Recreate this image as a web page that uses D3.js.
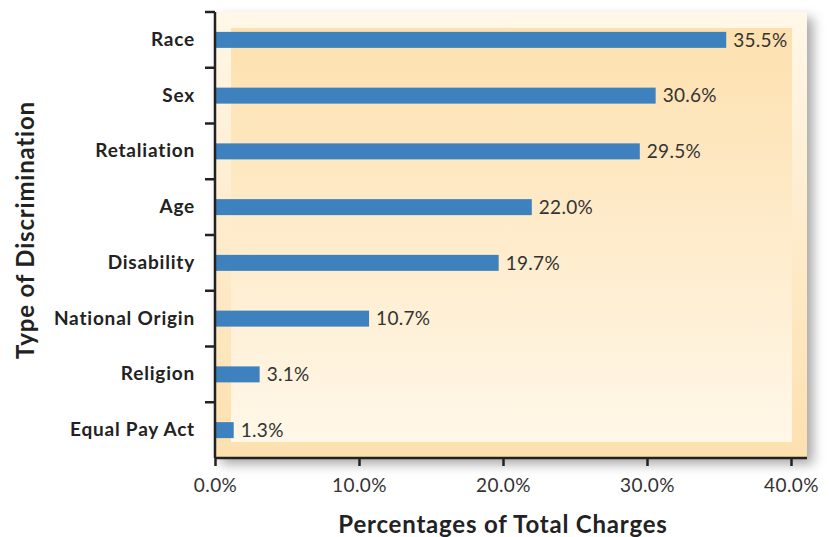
<!DOCTYPE html>
<html>
<head>
<meta charset="utf-8">
<script src="https://cdn.jsdelivr.net/npm/d3@7"></script>
<style>
  body { margin: 0; background: #fff; }
  svg { display: block; font-family: Lato, "Open Sans", sans-serif; }
</style>
</head>
<body>
<svg class="chart" width="829" height="537"></svg>
<script>
const categories = ["Race", "Sex", "Retaliation", "Age", "Disability", "National Origin", "Religion", "Equal Pay Act"];
const values = [35.5, 30.6, 29.5, 22.0, 19.7, 10.7, 3.1, 1.3];
const xTicks = [0, 10, 20, 30, 40];

const data = categories.map((c, i) => ({ name: c, value: values[i] }));

const margin = { top: 12, right: 38, bottom: 79, left: 215 };
const width = 829 - margin.left - margin.right;   // 576
const height = 537 - margin.top - margin.bottom;  // 446

const svgRoot = d3.select(".chart");
const defs = svgRoot.append("defs");

// panel gradients
const outerGrad = defs.append("linearGradient").attr("id", "outerGrad")
  .attr("x1", 0).attr("y1", 0).attr("x2", 0).attr("y2", 1);
outerGrad.append("stop").attr("offset", "0%").attr("stop-color", "#fff7e8");
outerGrad.append("stop").attr("offset", "100%").attr("stop-color", "#fde0ae");

const innerGrad = defs.append("linearGradient").attr("id", "innerGrad")
  .attr("x1", 0).attr("y1", 0).attr("x2", 0).attr("y2", 1);
innerGrad.append("stop").attr("offset", "0%").attr("stop-color", "#fde0ae");
innerGrad.append("stop").attr("offset", "100%").attr("stop-color", "#fff7e8");

const shadow = defs.append("filter").attr("id", "shadow")
  .attr("x", "-10%").attr("y", "-10%").attr("width", "130%").attr("height", "130%");
shadow.append("feDropShadow").attr("dx", 6).attr("dy", 6)
  .attr("stdDeviation", 6).attr("flood-color", "#000").attr("flood-opacity", 0.35);

const svg = svgRoot.append("g")
  .attr("transform", `translate(${margin.left},${margin.top})`);

const x = d3.scaleLinear().domain([0, 40]).range([0, width]);
const y = d3.scaleBand().domain(categories).range([0, height]);

// background panel
svg.append("rect")
  .attr("x", 0).attr("y", 0)
  .attr("width", width + 16).attr("height", height)
  .attr("fill", "url(#outerGrad)")
  .attr("filter", "url(#shadow)");

svg.append("rect")
  .attr("x", 16).attr("y", 16)
  .attr("width", width - 15).attr("height", height - 32)
  .attr("fill", "url(#innerGrad)");

// bars
svg.selectAll(".bar")
  .data(data)
  .enter()
  .append("rect")
  .attr("class", "bar")
  .attr("x", 0)
  .attr("y", (d) => y(d.name) + y.bandwidth() / 2 - 8)
  .attr("width", (d) => x(d.value))
  .attr("height", 16)
  .attr("fill", "#3d82be");

// value labels
svg.selectAll(".val")
  .data(data)
  .enter()
  .append("text")
  .attr("class", "val")
  .attr("x", (d) => x(d.value) + 7)
  .attr("y", (d) => y(d.name) + y.bandwidth() / 2)
  .attr("dy", "0.36em")
  .attr("font-size", 19)
  .attr("letter-spacing", 0.3)
  .attr("fill", "#333")
  .text((d) => d.value.toFixed(1) + "%");

// x axis
const xAxis = svg.append("g")
  .attr("transform", `translate(0,${height})`)
  .call(d3.axisBottom(x).tickValues(xTicks).tickSize(8).tickSizeOuter(0)
    .tickFormat((d) => d.toFixed(1) + "%"));
xAxis.select(".domain").attr("stroke", "#222").attr("stroke-width", 2.5)
  .attr("d", `M0,0H${width + 16}`);
xAxis.selectAll(".tick line").attr("stroke", "#222").attr("stroke-width", 2.5);
xAxis.selectAll(".tick text").attr("font-size", 19).attr("fill", "#333")
  .attr("letter-spacing", 0.4)
  .attr("dy", "1.2em").attr("font-family", "Lato, sans-serif");

// y axis
const yAxis = svg.append("g").call(d3.axisLeft(y).tickSize(0).tickPadding(20));
yAxis.select(".domain").attr("stroke", "#222").attr("stroke-width", 2.5)
  .attr("d", `M0,0V${height}`);
yAxis.selectAll(".tick text").attr("font-size", 19).attr("font-weight", "bold")
  .attr("letter-spacing", 0.8)
  .attr("fill", "#222").attr("font-family", "Lato, sans-serif");

// y tick marks sit on category boundaries
svg.append("g")
  .selectAll("line")
  .data(categories)
  .enter()
  .append("line")
  .attr("x1", -10).attr("x2", 0)
  .attr("y1", (d) => y(d)).attr("y2", (d) => y(d))
  .attr("stroke", "#222").attr("stroke-width", 2.5);

// axis titles
svgRoot.append("text")
  .attr("x", margin.left + x(20))
  .attr("y", 533)
  .attr("text-anchor", "middle")
  .attr("font-size", 24)
  .attr("letter-spacing", 0.8)
  .attr("font-weight", "bold")
  .attr("fill", "#222")
  .text("Percentages of Total Charges");

svgRoot.append("text")
  .attr("transform", `translate(34,230) rotate(-90)`)
  .attr("text-anchor", "middle")
  .attr("font-size", 24)
  .attr("letter-spacing", 0.8)
  .attr("font-weight", "bold")
  .attr("fill", "#222")
  .text("Type of Discrimination");
</script>
</body>
</html>
